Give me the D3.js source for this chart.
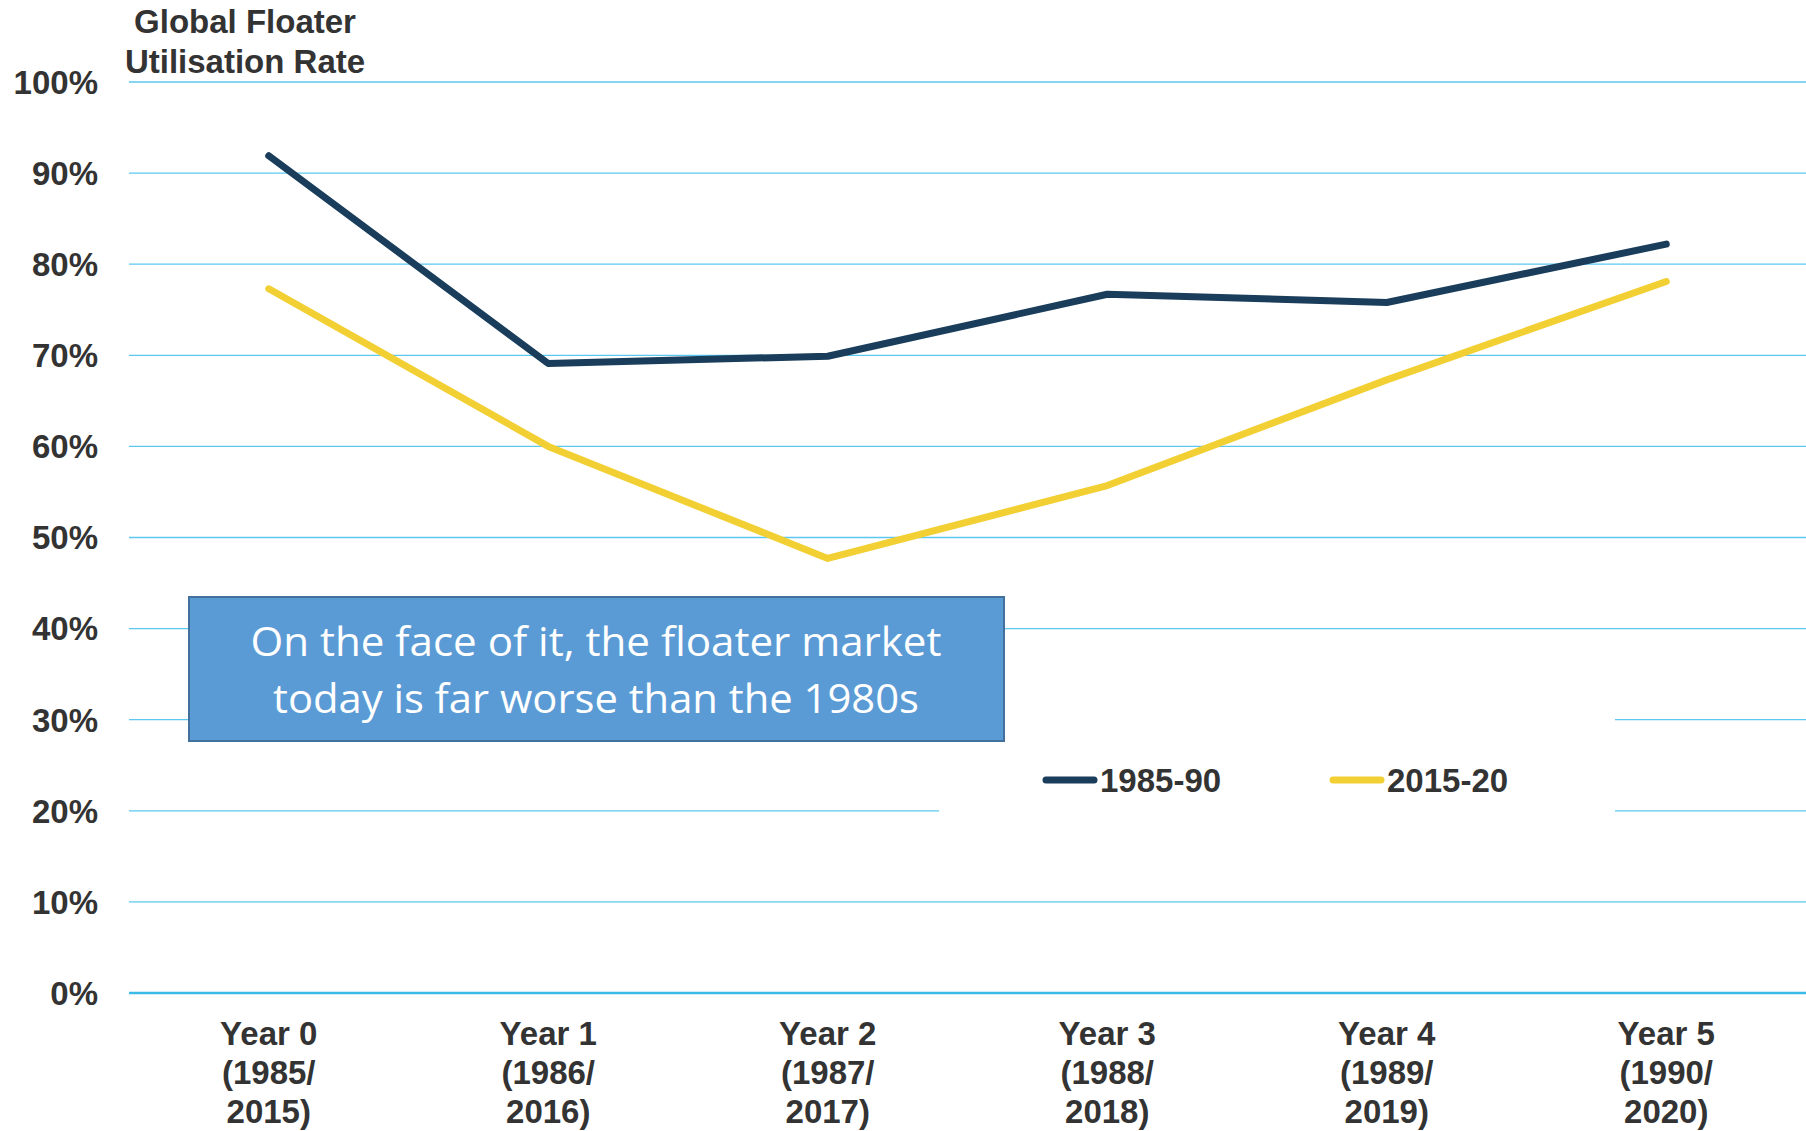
<!DOCTYPE html>
<html>
<head>
<meta charset="utf-8">
<script src="https://cdn.jsdelivr.net/npm/d3@7"></script>
<style>
    body { margin: 0; background: #fff; }
    text { font-family: Arial, "Liberation Sans", sans-serif; font-weight: bold; fill: #333; }
</style>
</head>
<body>
<div id="chart"></div>
<script>
// Data
const yearLabels = ['Year 0', 'Year 1', 'Year 2', 'Year 3', 'Year 4', 'Year 5'];
const earlyYears = ['(1985/', '(1986/', '(1987/', '(1988/', '(1989/', '(1990/'];
const lateYears = ['2015)', '2016)', '2017)', '2018)', '2019)', '2020)'];
const util1985 = [91.9, 69.1, 69.9, 76.7, 75.8, 82.2];
const util2015 = [77.3, 60.0, 47.7, 55.7, 67.3, 78.1];
const seriesNames = ['1985-90', '2015-20'];
const yTicks = [0, 10, 20, 30, 40, 50, 60, 70, 80, 90, 100];

const colorList = ['#193d5a', '#f2cf33'];
const gridColor = '#5cc8ef';

const width = 1806;
const height = 1131;

let svg = d3.select('#chart')
    .append('svg')
    .attr('width', width)
    .attr('height', height);

let xScale = d3.scaleBand()
    .domain(yearLabels)
    .range([129, 1806]);

let yScale = d3.scaleLinear()
    .domain([0, 100])
    .range([993, 82]);

// Gridlines
svg.append('g')
    .selectAll('line')
    .data(yTicks)
    .join('line')
    .attr('x1', 129)
    .attr('x2', 1806)
    .attr('y1', d => yScale(d))
    .attr('y2', d => yScale(d))
    .attr('stroke', d => d === 0 ? '#3bbbe8' : gridColor)
    .attr('stroke-width', d => d === 0 ? 2.5 : 1.3);

// Y axis labels
svg.append('g')
    .selectAll('text')
    .data(yTicks)
    .join('text')
    .attr('x', 98)
    .attr('y', d => yScale(d))
    .attr('dy', '0.36em')
    .attr('text-anchor', 'end')
    .attr('font-size', '33px')
    .text(d => d + '%');

// Axis title
svg.append('text')
    .attr('x', 245)
    .attr('y', 33)
    .attr('text-anchor', 'middle')
    .attr('font-size', '33px')
    .text('Global Floater');
svg.append('text')
    .attr('x', 245)
    .attr('y', 73)
    .attr('text-anchor', 'middle')
    .attr('font-size', '33px')
    .text('Utilisation Rate');

// X axis labels (three lines each)
let xLabels = svg.append('g')
    .selectAll('text')
    .data(yearLabels)
    .join('text')
    .attr('text-anchor', 'middle')
    .attr('font-size', '33px');
xLabels.append('tspan')
    .attr('x', d => xScale(d) + xScale.bandwidth() / 2)
    .attr('y', 1045)
    .text(d => d);
xLabels.append('tspan')
    .attr('x', d => xScale(d) + xScale.bandwidth() / 2)
    .attr('y', 1084)
    .text((d, i) => earlyYears[i]);
xLabels.append('tspan')
    .attr('x', d => xScale(d) + xScale.bandwidth() / 2)
    .attr('y', 1123)
    .text((d, i) => lateYears[i]);

// Lines
const line = d3.line()
    .x((d, i) => xScale(yearLabels[i]) + xScale.bandwidth() / 2)
    .y(d => yScale(d));

[util1985, util2015].forEach((series, i) => {
    svg.append('path')
        .datum(series)
        .attr('d', line)
        .attr('fill', 'none')
        .attr('stroke', colorList[i])
        .attr('stroke-width', 7)
        .attr('stroke-linecap', 'round')
        .attr('stroke-linejoin', 'round');
});

// Legend background (hides gridlines behind legend)
svg.append('rect')
    .attr('x', 939)
    .attr('y', 712)
    .attr('width', 676)
    .attr('height', 108)
    .attr('fill', '#fff');

// Callout box
svg.append('rect')
    .attr('x', 189)
    .attr('y', 597)
    .attr('width', 815)
    .attr('height', 144)
    .attr('fill', '#5b9bd5')
    .attr('stroke', '#41719c')
    .attr('stroke-width', 2);

const calloutLines = ['On the face of it, the floater market', 'today is far worse than the 1980s'];
const calloutWidths = [691, 646];
svg.append('g')
    .selectAll('text')
    .data(calloutLines)
    .join('text')
    .attr('x', 596)
    .attr('y', (d, i) => 656 + i * 57)
    .attr('text-anchor', 'middle')
    .attr('font-size', '40px')
    .style('font-family', '"Open Sans", Lato, sans-serif')
    .style('font-weight', 'normal')
    .style('fill', '#fff')
    .attr('textLength', (d, i) => calloutWidths[i])
    .attr('lengthAdjust', 'spacingAndGlyphs')
    .text(d => d);

// Legend
let legend = svg.append('g')
    .selectAll('g')
    .data(seriesNames)
    .join('g')
    .attr('transform', (d, i) => `translate(${1046 + i * 287}, 780)`);
legend.append('line')
    .attr('x1', 0)
    .attr('x2', 48)
    .attr('stroke', (d, i) => colorList[i])
    .attr('stroke-width', 7)
    .attr('stroke-linecap', 'round');
legend.append('text')
    .attr('x', 54)
    .attr('dy', '0.36em')
    .attr('font-size', '33px')
    .text(d => d);
</script>
</body>
</html>
